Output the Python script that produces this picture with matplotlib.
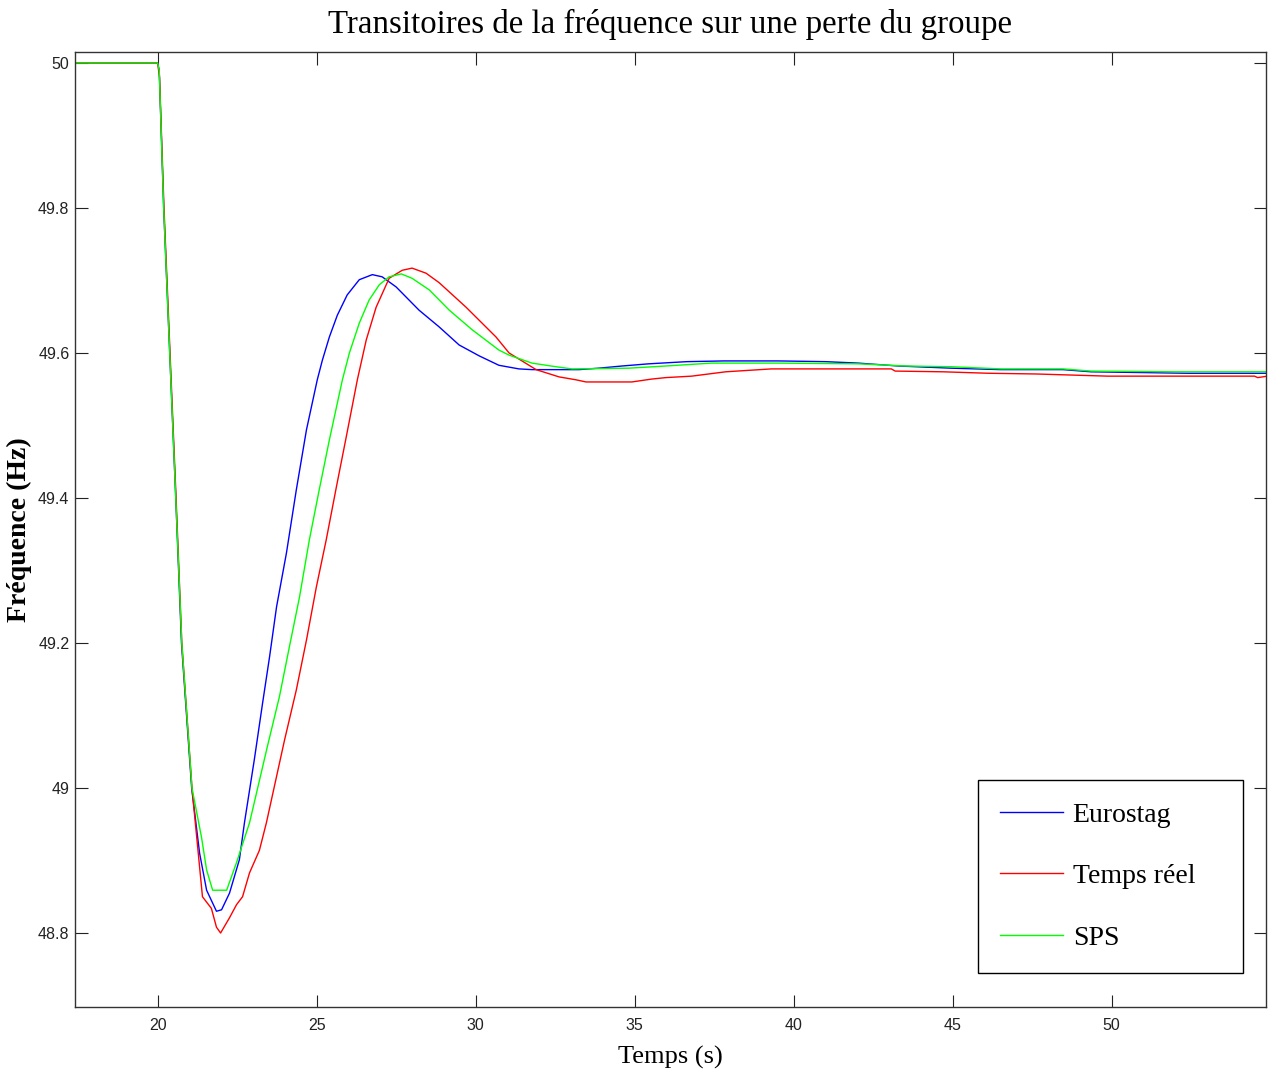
import numpy as np
import matplotlib
matplotlib.use("Agg")
import matplotlib.pyplot as plt

# Eurostag
t_euro = [17.4, 20.0, 20.05, 20.19, 20.38, 20.57, 20.75, 21.07, 21.32, 21.54, 21.85, 22.01,
          22.26, 22.57, 22.73, 23.04, 23.30, 23.52, 23.74, 24.05, 24.36, 24.68, 25.02, 25.18,
          25.40, 25.65, 25.96, 26.34, 26.75, 27.06, 27.50, 28.22, 28.85, 29.48, 30.11, 30.73,
          31.36, 31.77, 33.25, 33.87, 34.60, 35.44, 36.64, 37.80, 39.52, 41.00, 42.03, 43.29,
          44.95, 46.52, 48.47, 49.35, 52.39, 54.9]
f_euro = [50.0, 50.0, 49.99, 49.80, 49.60, 49.40, 49.20, 49.00, 48.910, 48.859, 48.830, 48.832,
          48.855, 48.901, 48.952, 49.039, 49.117, 49.181, 49.250, 49.324, 49.411, 49.494, 49.563, 49.590,
          49.622, 49.652, 49.680, 49.701, 49.708, 49.705, 49.691, 49.659, 49.636, 49.611, 49.596, 49.583,
          49.578, 49.577, 49.577, 49.579, 49.582, 49.585, 49.588, 49.589, 49.589, 49.588, 49.586, 49.582,
          49.579, 49.577, 49.577, 49.574, 49.572, 49.572]

# Temps reel
t_reel = [17.4, 20.0, 20.06, 20.2, 20.39, 20.58, 20.76, 21.08, 21.41, 21.69, 21.85, 21.98,
          22.26, 22.48, 22.67, 22.89, 23.20, 23.42, 23.99, 24.36, 24.68, 24.99, 25.30, 25.62,
          25.93, 26.28, 26.56, 26.87, 27.28, 27.69, 28.00, 28.44, 28.85, 29.70, 30.64, 31.05,
          31.90, 32.62, 33.15, 33.47, 34.91, 35.54, 35.98, 36.79, 37.86, 39.30, 43.07, 43.19,
          44.70, 46.11, 47.62, 49.88, 54.49, 54.59, 54.9]
f_reel = [50.0, 50.0, 49.98, 49.80, 49.60, 49.40, 49.20, 49.00, 48.850, 48.834, 48.808, 48.800,
          48.821, 48.839, 48.850, 48.883, 48.914, 48.952, 49.066, 49.135, 49.204, 49.277, 49.342, 49.415,
          49.484, 49.563, 49.618, 49.663, 49.703, 49.714, 49.717, 49.710, 49.697, 49.663, 49.622, 49.600,
          49.577, 49.567, 49.563, 49.560, 49.560, 49.564, 49.566, 49.568, 49.574, 49.578, 49.578, 49.575,
          49.574, 49.572, 49.571, 49.568, 49.568, 49.566, 49.568]

# SPS
t_sps = [17.4, 20.0, 20.05, 20.19, 20.38, 20.57, 20.76, 21.08, 21.38, 21.54, 21.73, 22.17,
         22.48, 22.89, 23.45, 23.83, 24.14, 24.46, 24.77, 25.08, 25.40, 25.81, 26.03, 26.34,
         26.65, 26.97, 27.28, 27.66, 28.00, 28.54, 29.17, 29.89, 30.73, 31.05, 31.77, 32.52,
         33.03, 34.81, 35.98, 37.42, 39.52, 42.03, 43.51, 44.95, 46.52, 48.47, 49.35, 51.98, 54.9]
f_sps = [50.0, 50.0, 49.99, 49.80, 49.60, 49.40, 49.20, 49.00, 48.932, 48.887, 48.859, 48.859,
         48.897, 48.952, 49.057, 49.126, 49.194, 49.263, 49.342, 49.411, 49.480, 49.563, 49.600, 49.641,
         49.673, 49.694, 49.705, 49.709, 49.703, 49.687, 49.659, 49.632, 49.604, 49.597, 49.586, 49.581,
         49.578, 49.579, 49.582, 49.586, 49.586, 49.585, 49.582, 49.581, 49.578, 49.578, 49.575, 49.574, 49.574]

xticks = [20, 25, 30, 35, 40, 45, 50]
yticks = [48.8, 49.0, 49.2, 49.4, 49.6, 49.8, 50.0]
ytick_labels = ["48.8", "49", "49.2", "49.4", "49.6", "49.8", "50"]

fig = plt.figure(figsize=(12.68, 10.71), dpi=100)
ax = fig.add_axes([0.0591, 0.0598, 0.9393, 0.8916])

ax.plot(t_euro, f_euro, color=(0, 0, 1), lw=1.0, label="Eurostag")
ax.plot(t_reel, f_reel, color=(1, 0, 0), lw=1.0, label="Temps réel")
ax.plot(t_sps, f_sps, color=(0, 1, 0), lw=1.0, label="SPS")

ax.set_xlim(17.4, 54.85)
ax.set_ylim(48.698, 50.015)
ax.set_xticks(xticks)
ax.set_xticklabels([str(x) for x in xticks])
ax.set_yticks(yticks)
ax.set_yticklabels(ytick_labels)
ax.tick_params(direction="in", length=9, width=0.8, top=True, right=True,
               labelsize=11.5, colors="#222222")
ax.tick_params(axis="x", pad=8)
ax.tick_params(axis="y", pad=4)
for lab in ax.get_xticklabels() + ax.get_yticklabels():
    lab.set_family("Liberation Sans")
for s in ax.spines.values():
    s.set_linewidth(1.0)
    s.set_color("#333333")

ax.set_title("Transitoires de la fréquence sur une perte du groupe",
             family="Liberation Serif", fontsize=23.7, pad=14)
ax.set_xlabel("Temps (s)", family="Liberation Serif", fontsize=19, labelpad=9)
ax.set_ylabel("Fréquence (Hz)", family="Liberation Serif", fontsize=20,
              fontweight="bold", labelpad=4)

# legend box spans a fixed width like the MATLAB one
lx0 = (979 - 75) / 1192
lx1 = (1244 - 75) / 1192
leg = ax.legend(loc="lower left", bbox_to_anchor=(lx0, 0.0356, lx1 - lx0, 0.2),
                mode="expand",
                prop={"family": "Liberation Serif", "size": 20},
                handlelength=2.25, handletextpad=0.35, labelspacing=1.3,
                borderpad=0.8, fancybox=False, framealpha=1, edgecolor="black",
                borderaxespad=0)
leg.get_frame().set_linewidth(1.0)

fig.savefig("out.png", dpi=100)
